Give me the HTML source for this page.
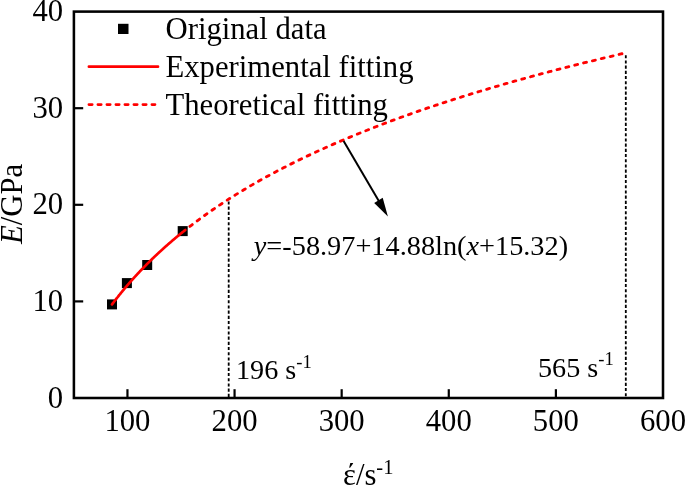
<!DOCTYPE html>
<html><head><meta charset="utf-8"><style>
html,body{margin:0;padding:0;background:#fff;width:685px;height:485px;overflow:hidden}
svg{display:block;will-change:transform}
text{font-family:"Liberation Serif",serif;fill:#000}
</style></head><body>
<svg width="685" height="485" viewBox="0 0 685 485">
<rect x="0" y="0" width="685" height="485" fill="#fff"/>
<line x1="228.7" y1="398.0" x2="228.7" y2="199.5" stroke="#000" stroke-width="1.8" stroke-dasharray="3.1 2.1" stroke-dashoffset="4.1"/>
<line x1="625.8" y1="398.0" x2="625.8" y2="53.3" stroke="#000" stroke-width="1.8" stroke-dasharray="3.1 2.1" stroke-dashoffset="3.5"/>
<path d="M184.76,230.43 L186.96,228.69 L189.17,226.97 L191.37,225.27 L193.57,223.59 L195.78,221.92 L197.98,220.28 L200.18,218.66 L202.39,217.05 L204.59,215.47 L206.80,213.90 L209.00,212.34 L211.20,210.81 L213.41,209.29 L215.61,207.78 L217.81,206.29 L220.02,204.82 L222.22,203.36 L224.43,201.92 L226.63,200.49 L228.83,199.07 L231.04,197.67 L233.24,196.28 L235.44,194.91 L237.65,193.55 L239.85,192.20 L242.06,190.86 L244.26,189.54 L246.46,188.22 L248.67,186.92 L250.87,185.64 L253.07,184.36 L255.28,183.09 L257.48,181.84 L259.69,180.59 L261.89,179.36 L264.09,178.14 L266.30,176.93 L268.50,175.72 L270.70,174.53 L272.91,173.35 L275.11,172.18 L277.32,171.01 L279.52,169.86 L281.72,168.71 L283.93,167.58 L286.13,166.45 L288.34,165.33 L290.54,164.22 L292.74,163.12 L294.95,162.03 L297.15,160.94 L299.35,159.87 L301.56,158.80 L303.76,157.74 L305.97,156.69 L308.17,155.64 L310.37,154.60 L312.58,153.57 L314.78,152.55 L316.98,151.54 L319.19,150.53 L321.39,149.53 L323.60,148.53 L325.80,147.54 L328.00,146.56 L330.21,145.59 L332.41,144.62 L334.61,143.66 L336.82,142.71 L339.02,141.76 L341.23,140.82 L343.43,139.88 L345.63,138.95 L347.84,138.03 L350.04,137.11 L352.24,136.19 L354.45,135.29 L356.65,134.39 L358.86,133.49 L361.06,132.60 L363.26,131.72 L365.47,130.84 L367.67,129.97 L369.87,129.10 L372.08,128.23 L374.28,127.38 L376.49,126.52 L378.69,125.68 L380.89,124.83 L383.10,123.99 L385.30,123.16 L387.50,122.33 L389.71,121.51 L391.91,120.69 L394.12,119.88 L396.32,119.07 L398.52,118.26 L400.73,117.46 L402.93,116.67 L405.13,115.87 L407.34,115.09 L409.54,114.30 L411.75,113.52 L413.95,112.75 L416.15,111.98 L418.36,111.21 L420.56,110.45 L422.77,109.69 L424.97,108.94 L427.17,108.19 L429.38,107.44 L431.58,106.70 L433.78,105.96 L435.99,105.22 L438.19,104.49 L440.40,103.77 L442.60,103.04 L444.80,102.32 L447.01,101.60 L449.21,100.89 L451.41,100.18 L453.62,99.48 L455.82,98.77 L458.03,98.07 L460.23,97.38 L462.43,96.69 L464.64,96.00 L466.84,95.31 L469.04,94.63 L471.25,93.95 L473.45,93.27 L475.66,92.60 L477.86,91.93 L480.06,91.26 L482.27,90.60 L484.47,89.94 L486.67,89.28 L488.88,88.62 L491.08,87.97 L493.29,87.32 L495.49,86.68 L497.69,86.04 L499.90,85.40 L502.10,84.76 L504.30,84.12 L506.51,83.49 L508.71,82.86 L510.92,82.24 L513.12,81.61 L515.32,80.99 L517.53,80.37 L519.73,79.76 L521.93,79.15 L524.14,78.54 L526.34,77.93 L528.55,77.32 L530.75,76.72 L532.95,76.12 L535.16,75.52 L537.36,74.93 L539.56,74.34 L541.77,73.74 L543.97,73.16 L546.18,72.57 L548.38,71.99 L550.58,71.41 L552.79,70.83 L554.99,70.25 L557.19,69.68 L559.40,69.11 L561.60,68.54 L563.81,67.97 L566.01,67.41 L568.21,66.85 L570.42,66.29 L572.62,65.73 L574.83,65.17 L577.03,64.62 L579.23,64.07 L581.44,63.52 L583.64,62.97 L585.84,62.42 L588.05,61.88 L590.25,61.34 L592.46,60.80 L594.66,60.26 L596.86,59.73 L599.07,59.19 L601.27,58.66 L603.47,58.13 L605.68,57.61 L607.88,57.08 L610.09,56.56 L612.29,56.03 L614.49,55.52 L616.70,55.00 L618.90,54.48 L621.10,53.97 L623.31,53.45 L625.51,52.94" fill="none" stroke="#f00" stroke-width="2.85" stroke-linecap="round" stroke-dasharray="3.0 6.13" stroke-dashoffset="2.6"/>
<rect x="107.00" y="299.40" width="10" height="10" fill="#000"/>
<rect x="121.90" y="278.10" width="10" height="10" fill="#000"/>
<rect x="142.20" y="260.00" width="10" height="10" fill="#000"/>
<rect x="177.70" y="226.10" width="10" height="10" fill="#000"/>
<path d="M112.03,304.38 L112.40,303.90 L112.76,303.41 L113.13,302.93 L113.50,302.45 L113.86,301.97 L114.23,301.49 L114.60,301.01 L114.96,300.54 L115.33,300.06 L115.69,299.59 L116.06,299.12 L116.43,298.65 L116.79,298.19 L117.16,297.72 L117.53,297.26 L117.89,296.79 L118.26,296.33 L118.62,295.87 L118.99,295.41 L119.36,294.96 L119.72,294.50 L120.09,294.05 L120.46,293.59 L120.82,293.14 L121.19,292.69 L121.55,292.25 L121.92,291.80 L122.29,291.35 L122.65,290.91 L123.02,290.47 L123.39,290.02 L123.75,289.58 L124.12,289.15 L124.49,288.71 L124.85,288.27 L125.22,287.84 L125.58,287.40 L125.95,286.97 L126.32,286.54 L126.68,286.11 L127.05,285.68 L127.42,285.26 L127.78,284.83 L128.15,284.41 L128.51,283.98 L128.88,283.56 L129.25,283.14 L129.61,282.72 L129.98,282.30 L130.35,281.88 L130.71,281.47 L131.08,281.05 L131.45,280.64 L131.81,280.23 L132.18,279.82 L132.54,279.41 L132.91,279.00 L133.28,278.59 L133.64,278.18 L134.01,277.78 L134.38,277.37 L134.74,276.97 L135.11,276.57 L135.47,276.17 L135.84,275.77 L136.21,275.37 L136.57,274.97 L136.94,274.58 L137.31,274.18 L137.67,273.79 L138.04,273.39 L138.41,273.00 L138.77,272.61 L139.14,272.22 L139.50,271.83 L139.87,271.44 L140.24,271.06 L140.60,270.67 L140.97,270.29 L141.34,269.90 L141.70,269.52 L142.07,269.14 L142.43,268.76 L142.80,268.38 L143.17,268.00 L143.53,267.62 L143.90,267.24 L144.27,266.87 L144.63,266.49 L145.00,266.12 L145.37,265.75 L145.73,265.37 L146.10,265.00 L146.46,264.63 L146.83,264.27 L147.20,263.90 L147.56,263.53 L147.93,263.16 L148.30,262.80 L148.66,262.43 L149.03,262.07 L149.39,261.71 L149.76,261.35 L150.13,260.99 L150.49,260.63 L150.86,260.27 L151.23,259.91 L151.59,259.55 L151.96,259.20 L152.33,258.84 L152.69,258.49 L153.06,258.13 L153.42,257.78 L153.79,257.43 L154.16,257.08 L154.52,256.73 L154.89,256.38 L155.26,256.03 L155.62,255.68 L155.99,255.34 L156.35,254.99 L156.72,254.65 L157.09,254.30 L157.45,253.96 L157.82,253.62 L158.19,253.27 L158.55,252.93 L158.92,252.59 L159.29,252.25 L159.65,251.91 L160.02,251.58 L160.38,251.24 L160.75,250.90 L161.12,250.57 L161.48,250.23 L161.85,249.90 L162.22,249.57 L162.58,249.23 L162.95,248.90 L163.31,248.57 L163.68,248.24 L164.05,247.91 L164.41,247.58 L164.78,247.26 L165.15,246.93 L165.51,246.60 L165.88,246.28 L166.25,245.95 L166.61,245.63 L166.98,245.31 L167.34,244.98 L167.71,244.66 L168.08,244.34 L168.44,244.02 L168.81,243.70 L169.18,243.38 L169.54,243.06 L169.91,242.75 L170.27,242.43 L170.64,242.11 L171.01,241.80 L171.37,241.48 L171.74,241.17 L172.11,240.85 L172.47,240.54 L172.84,240.23 L173.21,239.92 L173.57,239.61 L173.94,239.30 L174.30,238.99 L174.67,238.68 L175.04,238.37 L175.40,238.06 L175.77,237.76 L176.14,237.45 L176.50,237.15 L176.87,236.84 L177.23,236.54 L177.60,236.23 L177.97,235.93 L178.33,235.63 L178.70,235.33 L179.07,235.02 L179.43,234.72 L179.80,234.42 L180.17,234.13 L180.53,233.83 L180.90,233.53 L181.26,233.23 L181.63,232.94 L182.00,232.64 L182.36,232.34 L182.73,232.05 L183.10,231.76 L183.46,231.46 L183.83,231.17 L184.19,230.88 L184.56,230.58 L184.93,230.29 L185.29,230.00" fill="none" stroke="#f00" stroke-width="2.7" stroke-linecap="round"/>
<line x1="343.6" y1="141" x2="380" y2="203" stroke="#000" stroke-width="2"/>
<polygon points="374.2,202.9 382.7,197.8 387.9,216.4" fill="#000"/>
<rect x="73.9" y="11.6" width="589.10" height="386.40" fill="none" stroke="#000" stroke-width="2.55"/>
<line x1="73.9" y1="301.40" x2="83.20" y2="301.40" stroke="#000" stroke-width="2.2"/>
<line x1="73.9" y1="204.80" x2="83.20" y2="204.80" stroke="#000" stroke-width="2.2"/>
<line x1="73.9" y1="108.20" x2="83.20" y2="108.20" stroke="#000" stroke-width="2.2"/>
<line x1="127.45" y1="398.0" x2="127.45" y2="389.20" stroke="#000" stroke-width="2.2"/>
<line x1="234.56" y1="398.0" x2="234.56" y2="389.20" stroke="#000" stroke-width="2.2"/>
<line x1="341.67" y1="398.0" x2="341.67" y2="389.20" stroke="#000" stroke-width="2.2"/>
<line x1="448.78" y1="398.0" x2="448.78" y2="389.20" stroke="#000" stroke-width="2.2"/>
<line x1="555.89" y1="398.0" x2="555.89" y2="389.20" stroke="#000" stroke-width="2.2"/>
<text x="63.2" y="407.60" text-anchor="end" font-size="30.7">0</text>
<text x="63.2" y="311.00" text-anchor="end" font-size="30.7">10</text>
<text x="63.2" y="214.40" text-anchor="end" font-size="30.7">20</text>
<text x="63.2" y="117.80" text-anchor="end" font-size="30.7">30</text>
<text x="63.2" y="21.20" text-anchor="end" font-size="30.7">40</text>
<text x="127.45" y="431" text-anchor="middle" font-size="30.7">100</text>
<text x="234.56" y="431" text-anchor="middle" font-size="30.7">200</text>
<text x="341.67" y="431" text-anchor="middle" font-size="30.7">300</text>
<text x="448.78" y="431" text-anchor="middle" font-size="30.7">400</text>
<text x="555.89" y="431" text-anchor="middle" font-size="30.7">500</text>
<text x="663.00" y="431" text-anchor="middle" font-size="30.7">600</text>
<rect x="118" y="23.8" width="10.5" height="10.2" fill="#000"/>
<text x="165.5" y="38.7" font-size="30.7">Original data</text>
<line x1="88.9" y1="66.7" x2="158" y2="66.7" stroke="#f00" stroke-width="2.7" stroke-linecap="round"/>
<text x="165.5" y="77.2" font-size="30.7">Experimental fitting</text>
<line x1="88.9" y1="104.6" x2="155" y2="104.6" stroke="#f00" stroke-width="2.7" stroke-linecap="round" stroke-dasharray="3.3 5.7"/>
<text x="165.5" y="114.6" font-size="30.7">Theoretical fitting</text>
<text x="253.8" y="254.5" font-size="28.3"><tspan font-style="italic">y</tspan>=-58.97+14.88ln(<tspan font-style="italic">x</tspan>+15.32)</text>
<text x="236" y="379.4" font-size="28.2">196 s<tspan font-size="18.6" dy="-11.4">-1</tspan></text>
<text x="538" y="376.8" font-size="28.2">565 s<tspan font-size="18.6" dy="-11.4">-1</tspan></text>
<text transform="translate(21.7,244) rotate(-90)" font-size="30.7"><tspan font-style="italic">E</tspan>/GPa</text>
<text x="343" y="485.3" font-size="30.7">&#949;&#769;/s<tspan font-size="20.5" dy="-11.7">-1</tspan></text>
</svg>
</body></html>
